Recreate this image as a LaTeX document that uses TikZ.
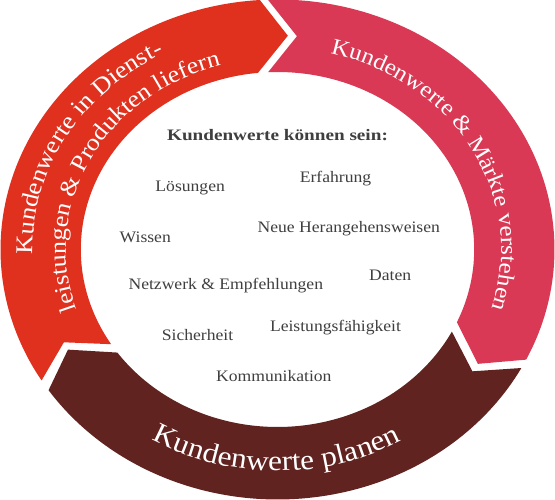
\documentclass[tikz,border=0pt]{standalone}
\usepackage{fontspec}
\setmainfont{Liberation Serif}[FakeStretch=1.1, BoldFeatures={FakeStretch=1.2}]
\usetikzlibrary{decorations.text}
\definecolor{bandred}{HTML}{E0301E}
\definecolor{bandpink}{HTML}{D93954}
\definecolor{banddark}{HTML}{602320}
\definecolor{txtgray}{HTML}{3F3F3F}
% #1 colour, #2 outer start, #3 inner start, #4 notch angle, #5 outer end, #6 inner end, #7 tip angle
\newcommand\ringband[7]{%
  \fill[#1] plot[domain=0:1,samples=90] ({277.5+277*cos((#2)+((#5)-(#2))*\x)},{249.5+250*sin((#2)+((#5)-(#2))*\x)})
    -- ({277.5+237.1*cos(#7)},{249.5+214*sin(#7)})
    -- plot[domain=0:1,samples=90] ({277.5+196.7*cos((#6)+((#3)-(#6))*\x)},{249.5+177.5*sin((#6)+((#3)-(#6))*\x)})
    -- ({277.5+237.1*cos(#4)},{249.5+214*sin(#4)}) -- cycle;}
\newcommand\bandtxt[1]{\fontsize{#1}{#1}\selectfont\color{white}}
\tikzset{
  item/.style={anchor=base, inner sep=0pt, text=txtgray, font=\fontsize{16}{16}\selectfont},
  bandlabel/.style={decorate, decoration={text along path, text align=center, #1}}
}
\begin{document}
\begin{tikzpicture}[x=1pt,y=-1pt]
\useasboundingbox (0,0) rectangle (555,500);
\fill[white] (0,0) rectangle (555,500);
% ring segments
\ringband{bandred}{148.4}{147.7}{154.3}{266.4}{264.3}{272.5}
\ringband{bandpink}{-92}{-92.8}{-85.3}{26.2}{24.2}{32.3}
\ringband{banddark}{28.3}{27.5}{34.7}{145.8}{144.5}{152.1}
% band labels
\path[bandlabel={text={|\bandtxt{24}|Kundenwerte in Dienst-}}]
  plot[domain=0:1,samples=120] ({277.5+1.108*221*cos(149.5+120*\x)},{249.5+221*sin(149.5+120*\x)});
\path[bandlabel={text={|\bandtxt{23.6}|leistungen {\&} Produkten liefern}}]
  plot[domain=0:1,samples=120] ({277.5+1.108*191*cos(142.5+130*\x)},{249.5+191*sin(142.5+130*\x)});
\path[bandlabel={text={|\bandtxt{22.8}|Kundenwerte {\&} Märkte verstehen}}]
  plot[domain=0:1,samples=120] ({277.5+1.108*202*cos(-89+120*\x)},{249.5+202*sin(-89+120*\x)});
\path[bandlabel={text={|\bandtxt{28.5}|Kundenwerte planen}}]
  plot[domain=0:1,samples=120] ({277.5+1.108*221.5*cos(140.2-100*\x)},{249.5+221.5*sin(140.2-100*\x)});
% inner texts
\node[item, font=\fontsize{16}{16}\selectfont\bfseries] (title) at (277.5,140.7) {Kundenwerte können sein:};
\node[item] (loesungen) at (190.2,191.7) {Lösungen};
\node[item] (erfahrung) at (335.5,182.3) {Erfahrung};
\node[item] (wissen) at (145.3,242.7) {Wissen};
\node[item] (neue) at (348.8,232.7) {Neue Herangehensweisen};
\node[item] (daten) at (390.2,280) {Daten};
\node[item] (netzwerk) at (225.8,290) {Netzwerk {\&} Empfehlungen};
\node[item] (sicherheit) at (197.5,341) {Sicherheit};
\node[item] (leistung) at (335.5,331) {Leistungsfähigkeit};
\node[item] (komm) at (273.8,381.7) {Kommunikation};
\end{tikzpicture}
\end{document}
